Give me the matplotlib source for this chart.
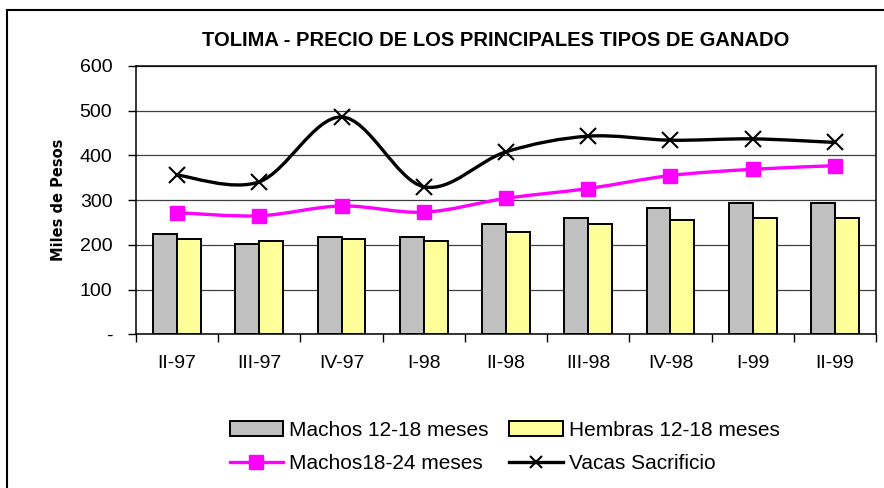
"""
Tolima - precio de los principales tipos de ganado (bar + smoothed lines).
"""

import matplotlib
matplotlib.use("Agg")
import matplotlib.pyplot as plt
from matplotlib.path import Path
from matplotlib.patches import PathPatch, Patch
from matplotlib.lines import Line2D
import numpy as np


# data (miles de pesos)
periods = ["II-97", "III-97", "IV-97", "I-98", "II-98", "III-98", "IV-98", "I-99", "II-99"]
machos_12_18 = [225, 203, 217, 217, 247, 260, 282, 294, 294]
hembras_12_18 = [212, 208, 212, 208, 229, 246, 255, 260, 260]
machos_18_24 = [272, 265, 287, 273, 304, 326, 355, 369, 377]
vacas_sacrificio = [356, 341, 486, 330, 408, 443, 434, 437, 429]

y_ticks = [0, 100, 200, 300, 400, 500, 600]
y_ticklabels = ["-", "100", "200", "300", "400", "500", "600"]


def smooth_path(xs, ys):
    """Excel-like smoothed line: cubic Bezier through the points."""
    pts = np.column_stack([xs, ys]).astype(float)
    n = len(pts)
    verts = [pts[0]]
    codes = [Path.MOVETO]
    for i in range(n - 1):
        p_prev = pts[max(i - 1, 0)]
        p0, p1 = pts[i], pts[i + 1]
        p_next = pts[min(i + 2, n - 1)]
        c1 = p0 + (p1 - p_prev) / 6.0
        c2 = p1 - (p_next - p0) / 6.0
        verts += [c1, c2, p1]
        codes += [Path.CURVE4] * 3
    return Path(verts, codes)


plt.rcParams['font.family'] = ['Liberation Sans', 'DejaVu Sans']

fig = plt.figure(figsize=(8.84, 4.88), dpi=100)
ax = fig.add_axes([0.1538, 0.315, 0.8372, 0.5498])

x = np.arange(len(periods))
w = 0.29

grey = '#c0c0c0'
yellow = '#ffff99'
pink = '#ff00ff'

ax.bar(x - w / 2, machos_12_18, width=w, color=grey, edgecolor='black', linewidth=1.4, zorder=3)
ax.bar(x + w / 2, hembras_12_18, width=w, color=yellow, edgecolor='black', linewidth=1.4, zorder=3)

ax.add_patch(PathPatch(smooth_path(x, machos_18_24), fill=False, edgecolor=pink,
                       linewidth=2.4, zorder=4))
ax.plot(x, machos_18_24, linestyle='none', marker='s', markersize=10,
        color=pink, zorder=5)

ax.add_patch(PathPatch(smooth_path(x, vacas_sacrificio), fill=False, edgecolor='black',
                       linewidth=2.4, zorder=4))
ax.plot(x, vacas_sacrificio, linestyle='none', marker='x', markersize=12,
        markeredgewidth=1.5, color='black', zorder=5)

ax.set_xlim(-0.5, len(periods) - 0.5)
ax.set_ylim(0, 600)
ax.set_yticks(y_ticks)
ax.set_yticklabels(y_ticklabels, fontsize=14)
ax.yaxis.grid(True, color='#404040', linewidth=0.9, zorder=0)
ax.tick_params(axis='y', direction='out', length=6, width=1, pad=11)

# ticks at category boundaries, labels at centres
ax.set_xticks(np.arange(len(periods) + 1) - 0.5)
ax.set_xticklabels([])
ax.set_xticks(x, minor=True)
ax.set_xticklabels(periods, minor=True, fontsize=14)
ax.tick_params(axis='x', which='major', direction='out', length=6, width=1)
ax.tick_params(axis='x', which='minor', length=0, pad=15)

for s in ax.spines.values():
    s.set_linewidth(1.1)
    s.set_color('black')

ax.set_ylabel("Miles de Pesos", fontsize=10.5, fontweight='bold',
              family='DejaVu Sans', labelpad=10)

fig.text(0.561, 0.918, "TOLIMA - PRECIO DE LOS PRINCIPALES TIPOS DE GANADO",
         ha='center', va='center', fontsize=14.5, fontweight='bold')

handles = [
    Patch(facecolor=grey, edgecolor='black', linewidth=1.4, label="Machos 12-18 meses"),
    Line2D([], [], color=pink, linewidth=2.4, marker='s', markersize=10,
           label="Machos18-24 meses"),
    Patch(facecolor=yellow, edgecolor='black', linewidth=1.4, label="Hembras 12-18 meses"),
    Line2D([], [], color='black', linewidth=2.4, marker='x', markersize=9,
           markeredgewidth=1.5, label="Vacas Sacrificio"),
]
fig.legend(handles=handles, ncol=2, loc='center', bbox_to_anchor=(0.571, 0.084),
           frameon=False, fontsize=15, handlelength=2.55, handleheight=0.7,
           handletextpad=0.3, columnspacing=1.0, labelspacing=0.7,
           borderpad=0.2)

# outer chart border (only top and left edges are visible in the crop)
fig.add_artist(Line2D([0.008, 1.0], [0.979, 0.979], color='black', linewidth=1.5,
                      transform=fig.transFigure))
fig.add_artist(Line2D([0.008, 0.008], [0.0, 0.979], color='black', linewidth=1.5,
                      transform=fig.transFigure))

fig.savefig("out.png", dpi=100)
